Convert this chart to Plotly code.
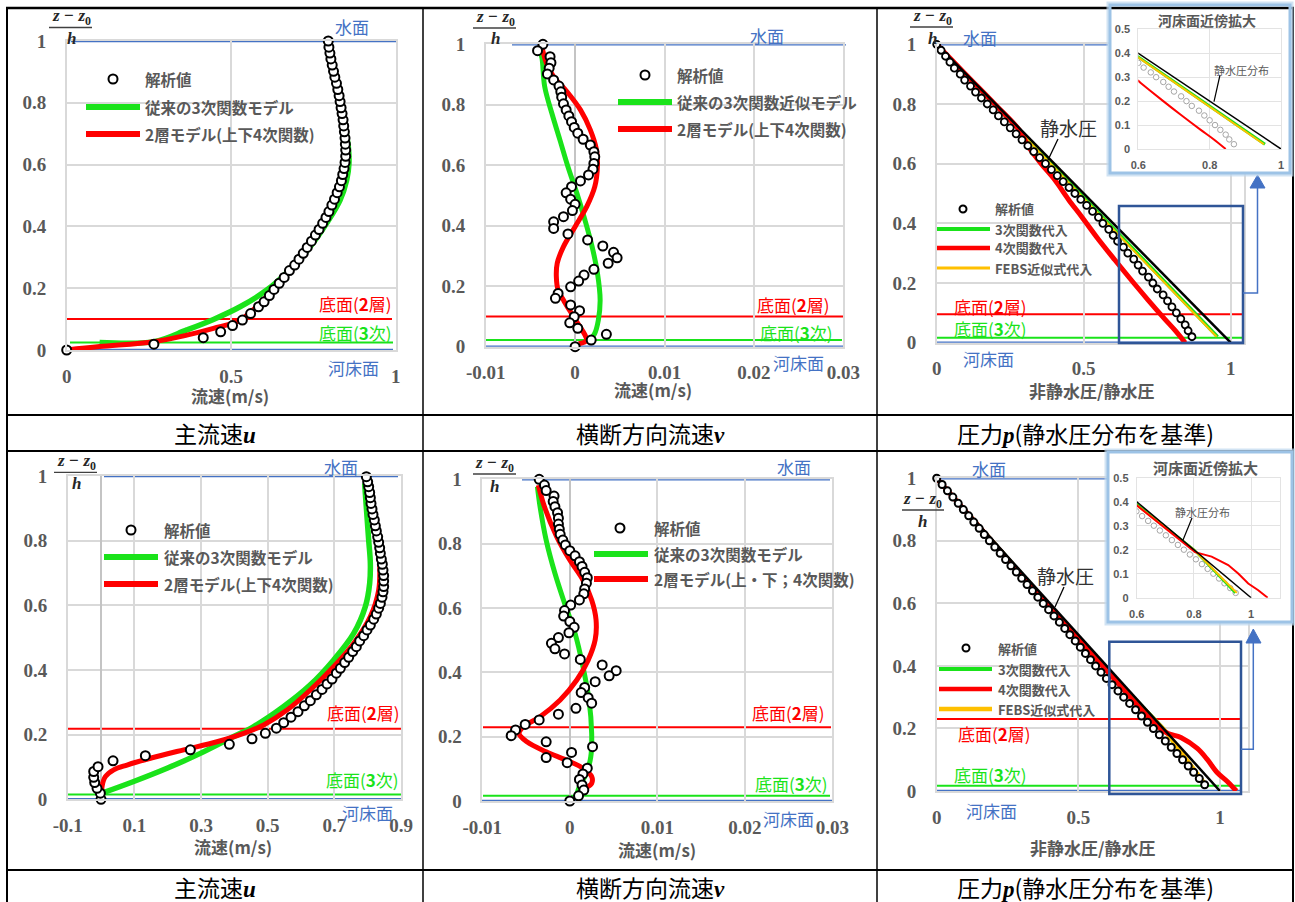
import plotly.graph_objects as go

W, H = 1295, 902
def fx(p): return p / W
def fy(p): return 1 - p / H

# ---------------- data ----------------
# Panel 1: main velocity u (case 1)
p1_ana_z = [0, 0.019, 0.04, 0.059, 0.079, 0.097, 0.118, 0.140, 0.156, 0.176, 0.196, 0.216, 0.235, 0.257, 0.275, 0.294, 0.313, 0.332, 0.352, 0.372,
            0.390, 0.410, 0.429, 0.448, 0.469, 0.488, 0.509, 0.528, 0.548, 0.568, 0.587, 0.607, 0.627, 0.647, 0.666, 0.686, 0.706, 0.725, 0.745, 0.765,
            0.784, 0.804, 0.823, 0.843, 0.863, 0.883, 0.902, 0.922, 0.942, 0.961, 0.980, 1.0]
p1_ana_u = [0, 0.265, 0.415, 0.468, 0.504, 0.534, 0.559, 0.583, 0.600, 0.616, 0.630, 0.646, 0.661, 0.677, 0.693, 0.706, 0.719, 0.731, 0.744, 0.756,
            0.767, 0.778, 0.788, 0.797, 0.806, 0.814, 0.822, 0.829, 0.835, 0.839, 0.843, 0.846, 0.848, 0.848, 0.847, 0.846, 0.844, 0.842, 0.840, 0.837,
            0.834, 0.831, 0.828, 0.824, 0.820, 0.815, 0.811, 0.807, 0.803, 0.800, 0.797, 0.795]
p1_cub_z = [0.024, 0.027, 0.065, 0.099, 0.140, 0.194, 0.261, 0.334, 0.410, 0.485, 0.550, 0.604, 0.658, 0.722, 0.809, 0.884, 0.949, 0.98]
p1_cub_u = [0.10, 0.265, 0.365, 0.446, 0.527, 0.608, 0.679, 0.740, 0.790, 0.831, 0.851, 0.858, 0.856, 0.846, 0.831, 0.815, 0.800, 0.792]
p1_two_z = [0, 0.011, 0.027, 0.048, 0.070, 0.097, 0.173, 0.248, 0.334, 0.420, 0.507, 0.582, 0.647, 0.722, 0.809, 0.884, 0.959, 0.98]
p1_two_u = [0, 0.10, 0.265, 0.365, 0.446, 0.527, 0.608, 0.669, 0.731, 0.782, 0.822, 0.843, 0.848, 0.843, 0.828, 0.813, 0.797, 0.795]

# Panel 2: transverse velocity v (case 1)
p2_ana_z = [1.0, 0.979, 0.959, 0.939, 0.921, 0.902, 0.882, 0.862, 0.843, 0.825, 0.803, 0.783, 0.763, 0.744, 0.725, 0.706, 0.686, 0.667, 0.645, 0.628,
            0.606, 0.587, 0.568, 0.548, 0.529, 0.509, 0.488, 0.471, 0.450, 0.430, 0.413, 0.391, 0.373, 0.353, 0.333, 0.312, 0.294, 0.276, 0.256, 0.237,
            0.217, 0.198, 0.176, 0.160, 0.138, 0.119, 0.099, 0.079, 0.061, 0.041, 0.022, 0.0]
p2_ana_v = [-0.0036, -0.0042, -0.0028, -0.0027, -0.0029, -0.0031, -0.0024, -0.0018, -0.0016, -0.0015, -0.0013, -0.0010, -0.0007, -0.0004, -0.0001,
            0.0003, 0.0009, 0.0017, 0.0021, 0.0022, 0.0021, 0.0020, 0.0015, 0.0006, -0.0004, -0.0010, -0.0005, 0.0, -0.0003, -0.0013,
            -0.0024, -0.0024, -0.0008, 0.0014, 0.0031, 0.0043, 0.0047, 0.0037, 0.0021, 0.0010, 0.0004, -0.0005, -0.0019, -0.0022, -0.0005,
            0.0005, -0.0001, -0.0006, 0.0003, 0.0035, 0.0018, 0.0]
p2_cub_z = [0.975, 0.954, 0.860, 0.772, 0.684, 0.595, 0.507, 0.419, 0.331, 0.243, 0.154, 0.088, 0.044, 0.022]
p2_cub_v = [-0.0039, -0.0037, -0.0034, -0.0026, -0.0017, -0.0008, 0.0002, 0.0011, 0.0019, 0.0025, 0.0028, 0.0026, 0.0022, 0.0017]
p2_two_z = [0.99, 0.937, 0.893, 0.843, 0.783, 0.717, 0.650, 0.595, 0.529, 0.463, 0.397, 0.331, 0.276, 0.232, 0.187, 0.149, 0.110, 0.072, 0.039, 0.02, 0.01]
p2_two_v = [-0.0037, -0.0032, -0.0024, -0.0009, 0.0006, 0.0017, 0.0024, 0.0025, 0.0022, 0.0013, 0.0, -0.0013, -0.0020, -0.0021, -0.0019,
            -0.0012, -0.0004, 0.0004, 0.0011, 0.0013, 0.0004]

# Panel 3: pressure ratio (case 1)
p3_ana_z = [1.00, 0.98, 0.96, 0.94, 0.92, 0.90, 0.88, 0.86, 0.84, 0.82, 0.80, 0.78, 0.76, 0.74, 0.72, 0.70, 0.68, 0.66, 0.64, 0.62,
            0.60, 0.58, 0.56, 0.54, 0.52, 0.50, 0.48, 0.46, 0.44, 0.42, 0.40, 0.38, 0.36, 0.34, 0.32, 0.30, 0.28, 0.26, 0.24, 0.22,
            0.20, 0.18, 0.16, 0.14, 0.12, 0.10, 0.08, 0.06, 0.04, 0.02]
p3_ana_p = [0.00, 0.015, 0.03, 0.045, 0.06, 0.08, 0.095, 0.115, 0.132, 0.152, 0.172, 0.192, 0.21, 0.23, 0.25, 0.27, 0.29, 0.31, 0.33, 0.35,
            0.37, 0.39, 0.41, 0.43, 0.45, 0.47, 0.49, 0.51, 0.53, 0.55, 0.565, 0.585, 0.60, 0.615, 0.635, 0.65, 0.67, 0.685, 0.70, 0.72,
            0.735, 0.75, 0.77, 0.785, 0.80, 0.815, 0.83, 0.845, 0.855, 0.868]
p3_cub_z = [1.0, 0.385, 0.02]
p3_cub_p = [0.0, 0.60, 0.955]
p3_febs_z = [1.0, 0.38, 0.02]
p3_febs_p = [0.0, 0.60, 0.952]
p3_quart_z = [1.0, 0.9, 0.8, 0.71, 0.657, 0.6, 0.545, 0.48, 0.422, 0.35, 0.277, 0.2, 0.143, 0.08, 0.042, 0.0]
p3_quart_p = [0.0, 0.098, 0.197, 0.283, 0.312, 0.355, 0.402, 0.448, 0.493, 0.547, 0.606, 0.67, 0.719, 0.775, 0.810, 0.845]

# hydrostatic distribution (panels 3 and 6)
hs_z = [1.0, 0.0]
hs_p = [0.0, 1.0]

# Panel 4: main velocity u (case 2)
p4_ana_z = [0, 0.019, 0.034, 0.052, 0.068, 0.086, 0.101, 0.119, 0.135, 0.153, 0.170, 0.187, 0.204, 0.220, 0.237, 0.254, 0.271, 0.289, 0.305, 0.323,
            0.340, 0.357, 0.372, 0.390, 0.405, 0.423, 0.439, 0.457, 0.472, 0.490, 0.506, 0.524, 0.539, 0.557, 0.573, 0.591, 0.606, 0.625, 0.642, 0.658,
            0.675, 0.692, 0.709, 0.727, 0.743, 0.761, 0.778, 0.795, 0.812, 0.830, 0.846, 0.864, 0.881, 0.898, 0.915, 0.933, 0.949, 0.967, 0.982, 0.998]
p4_ana_u = [0.0, -0.002, -0.012, -0.019, -0.022, -0.022, -0.009, 0.036, 0.133, 0.268, 0.385, 0.453, 0.493, 0.526, 0.548, 0.570, 0.591, 0.610, 0.628, 0.646,
            0.663, 0.678, 0.693, 0.706, 0.718, 0.731, 0.743, 0.755, 0.766, 0.776, 0.788, 0.798, 0.808, 0.818, 0.826, 0.833, 0.838, 0.843, 0.846, 0.848,
            0.848, 0.848, 0.846, 0.844, 0.841, 0.838, 0.836, 0.833, 0.830, 0.826, 0.823, 0.820, 0.816, 0.813, 0.810, 0.808, 0.806, 0.803, 0.800, 0.796]
p4_cub_z = [0.019, 0.055, 0.096, 0.142, 0.194, 0.225, 0.287, 0.354, 0.431, 0.513, 0.596, 0.668, 0.730, 0.802, 0.874, 0.946, 0.977]
p4_cub_u = [0.003, 0.098, 0.198, 0.298, 0.398, 0.458, 0.548, 0.628, 0.698, 0.758, 0.793, 0.806, 0.808, 0.803, 0.798, 0.793, 0.791]
p4_two_z = [0.019, 0.039, 0.070, 0.091, 0.106, 0.127, 0.153, 0.178, 0.204, 0.230, 0.276, 0.338, 0.410, 0.482, 0.565, 0.647, 0.720, 0.802, 0.885, 0.957, 0.982]
p4_two_u = [0.003, 0.003, 0.013, 0.038, 0.078, 0.148, 0.248, 0.348, 0.428, 0.488, 0.558, 0.628, 0.698, 0.758, 0.808, 0.833, 0.836, 0.828, 0.816, 0.803, 0.798]

# Panel 5: transverse velocity v (case 2)
p5_ana_z = [1.0, 0.982, 0.965, 0.948, 0.931, 0.915, 0.896, 0.879, 0.861, 0.845, 0.829, 0.811, 0.796, 0.778, 0.762, 0.744, 0.729, 0.711, 0.694, 0.677,
            0.659, 0.644, 0.625, 0.609, 0.592, 0.575, 0.558, 0.540, 0.523, 0.508, 0.490, 0.473, 0.457, 0.440, 0.423, 0.405, 0.389, 0.371, 0.353, 0.337,
            0.321, 0.304, 0.288, 0.270, 0.252, 0.238, 0.221, 0.203, 0.184, 0.169, 0.151, 0.135, 0.119, 0.102, 0.084, 0.067, 0.050, 0.034, 0.016, 0.0]
p5_ana_v = [-0.0035, -0.0029, -0.0027, -0.0018, -0.0019, -0.0017, -0.0014, -0.0013, -0.0013, -0.0012, -0.0011, -0.0008, -0.0005, 0.0, 0.0006,
            0.0011, 0.0014, 0.0017, 0.0020, 0.0019, 0.0017, 0.0016, 0.0011, 0.0001, -0.0006, -0.0007, 0.0, 0.0005, -0.0001, -0.0013,
            -0.0021, -0.0017, -0.0006, 0.0012, 0.0037, 0.0053, 0.0045, 0.0029, 0.0017, 0.0013, 0.0021, 0.0025, 0.0007, -0.0013, -0.0035,
            -0.0051, -0.0062, -0.0067, -0.0027, 0.0026, 0.0002, -0.0027, -0.0003, 0.0020, 0.0015, 0.0011, 0.0014, 0.0016, 0.0010, 0.0]
p5_cub_z = [0.977, 0.915, 0.811, 0.708, 0.615, 0.521, 0.418, 0.314, 0.210, 0.138, 0.086, 0.045, 0.021]
p5_cub_v = [-0.0037, -0.0034, -0.0027, -0.0017, -0.0006, 0.0006, 0.0015, 0.0022, 0.0025, 0.0024, 0.0019, 0.0011, 0.0008]
p5_two_z = [0.982, 0.915, 0.822, 0.749, 0.687, 0.625, 0.563, 0.501, 0.438, 0.376, 0.314, 0.262, 0.231, 0.210, 0.184, 0.153, 0.127, 0.102, 0.076, 0.055, 0.039]
p5_two_v = [-0.0036, -0.0029, -0.0015, 0.0, 0.0015, 0.0025, 0.0030, 0.0029, 0.0021, 0.0008, -0.0011, -0.0034, -0.0053, -0.0058, -0.0049,
            -0.0027, -0.0004, 0.0015, 0.0025, 0.0025, 0.0017]

# Panel 6: pressure ratio (case 2)
p6_ana_z = p3_ana_z
p6_ana_p = [0.000, 0.019, 0.038, 0.057, 0.076, 0.094, 0.113, 0.131, 0.150, 0.168, 0.186, 0.205, 0.224, 0.243, 0.262, 0.281, 0.300, 0.319, 0.338, 0.357,
            0.376, 0.395, 0.414, 0.433, 0.452, 0.470, 0.489, 0.507, 0.525, 0.543, 0.561, 0.580, 0.599, 0.619, 0.640, 0.660, 0.681, 0.702, 0.723, 0.744,
            0.765, 0.786, 0.807, 0.828, 0.848, 0.868, 0.888, 0.907, 0.927, 0.946]
p6_cub_z = [1.0, 0.39, 0.2, 0.02]
p6_cub_p = [0.0, 0.60, 0.80, 0.945]
p6_febs_z = [1.0, 0.385, 0.2, 0.02]
p6_febs_p = [0.0, 0.60, 0.80, 0.95]
p6_quart_z = [1.0, 0.385, 0.19, 0.171, 0.136, 0.101, 0.059, 0.031, 0.0]
p6_quart_p = [0.0, 0.60, 0.804, 0.862, 0.92, 0.955, 0.99, 1.025, 1.058]

# reference levels (per panel 1..6)
surface_z = [1, 1, 1, 1, 1, 1]
riverbed_z = [0, 0, 0, 0, 0, 0]
bed2_z = [0.10, 0.10, 0.095, 0.218, 0.229, 0.23]
bed3_z = [0.024, 0.022, 0.017, 0.015, 0.016, 0.017]

# tick labels
y_ticks = [0, 0.2, 0.4, 0.6, 0.8, 1]
y_ticktext = ['0', '0.2', '0.4', '0.6', '0.8', '1']
u1_ticks = [0, 0.5, 1]; u1_text = ['0', '0.5', '1']
v_ticks = [-0.01, 0, 0.01, 0.02, 0.03]; v_text = ['-0.01', '0', '0.01', '0.02', '0.03']
u2_ticks = [-0.1, 0.1, 0.3, 0.5, 0.7, 0.9]; u2_text = ['-0.1', '0.1', '0.3', '0.5', '0.7', '0.9']
p_ticks = [0, 0.5, 1]; p_text = ['0', '0.5', '1']
in_y_ticks = [0, 0.1, 0.2, 0.3, 0.4, 0.5]; in_y_text = ['0', '0.1', '0.2', '0.3', '0.4', '0.5']
in_x_ticks = [0.6, 0.8, 1.0]; in_x_text = ['0.6', '0.8', '1']

# ---------------- style ----------------
NUM = 'Liberation Serif, DejaVu Serif, serif'
JP = 'Noto Sans CJK JP'
GREY = '#595959'
BLUE = '#4472C4'
RED = '#FF0000'
GREEN = '#1AE31A'
ORANGE = '#FFC000'
GRID = '#D9D9D9'

fig = go.Figure()

panels = {
    1: (66.7, 395.7, 41, 350, [0, 1], [0, 1], u1_ticks, u1_text, False),
    2: (485.7, 843.3, 44.3, 346.7, [-0.01, 0.03], [0, 1], v_ticks, v_text, True),
    3: (936.7, 1244, 44.3, 342.7, [0, 1.045], [0, 1], p_ticks, p_text, False),
    4: (67.7, 401, 476, 799.3, [-0.1, 0.9], [0, 1], u2_ticks, u2_text, True),
    5: (482.3, 832.3, 479.3, 801, [-0.01, 0.03], [0, 1], v_ticks, v_text, True),
    6: (936.7, 1248.3, 478.3, 791, [0, 1.1], [0, 1], p_ticks, p_text, False),
}

def axkey(c, n):
    return c + 'axis' + ('' if n == 1 else str(n))

def ref(c, n):
    return c + ('' if n == 1 else str(n))

lay = {}
tickf = dict(family=NUM, size=19, color=GREY, weight='bold')
for n, (l, r, t, b, xr, yr, xt, xtt, zl) in panels.items():
    lay[axkey('x', n)] = dict(domain=[fx(l), fx(r)], range=xr, anchor=ref('y', n),
                              showgrid=True, gridcolor=GRID, gridwidth=1.5,
                              zeroline=zl, zerolinecolor='#C4C4C4', zerolinewidth=1.5,
                              showline=True, linecolor=GRID, linewidth=1.5, mirror=True,
                              ticks='outside', ticklen=8, tickcolor='rgba(0,0,0,0)',
                              tickvals=xt, ticktext=xtt, tickfont=tickf, fixedrange=True, automargin=False)
    lay[axkey('y', n)] = dict(domain=[fy(b), fy(t)], range=yr, anchor=ref('x', n),
                              showgrid=True, gridcolor=GRID, gridwidth=1.5, zeroline=False,
                              showline=True, linecolor=GRID, linewidth=1.5, mirror=True,
                              ticks='outside', ticklen=15, tickcolor='rgba(0,0,0,0)',
                              tickvals=y_ticks, ticktext=y_ticktext, tickfont=tickf, fixedrange=True, automargin=False)

inset_bg = {7: (1110, 1290, 5, 173), 9: (1108, 1292, 452, 622)}
for n, (l, r, t, b) in inset_bg.items():
    lay[axkey('x', n)] = dict(domain=[fx(l), fx(r)], range=[0, 1], anchor=ref('y', n), visible=False, fixedrange=True)
    lay[axkey('y', n)] = dict(domain=[fy(b), fy(t)], range=[0, 1], anchor=ref('x', n), visible=False, fixedrange=True)
    fig.add_trace(go.Scatter(x=[], y=[], xaxis=ref('x', n), yaxis=ref('y', n), showlegend=False))

insets = {8: (1138.3, 1281, 29.3, 149, [0.6, 1.0]), 10: (1136.7, 1279.7, 477.7, 597.7, [0.6, 1.1])}
in_tickf = dict(family='Liberation Sans', size=11, color=GREY, weight='bold')
for n, (l, r, t, b, xr) in insets.items():
    lay[axkey('x', n)] = dict(domain=[fx(l), fx(r)], range=xr, anchor=ref('y', n),
                              showgrid=True, gridcolor='#E3E3E3', gridwidth=1, zeroline=False,
                              showline=True, linecolor='#E3E3E3', mirror=True,
                              ticks='outside', ticklen=6, tickcolor='rgba(0,0,0,0)',
                              tickvals=in_x_ticks, ticktext=in_x_text, tickfont=in_tickf, fixedrange=True, automargin=False)
    lay[axkey('y', n)] = dict(domain=[fy(b), fy(t)], range=[0, 0.5], anchor=ref('x', n),
                              showgrid=True, gridcolor='#E3E3E3', gridwidth=1, zeroline=False,
                              showline=True, linecolor='#E3E3E3', mirror=True,
                              ticks='outside', ticklen=5, tickcolor='rgba(0,0,0,0)',
                              tickvals=in_y_ticks, ticktext=in_y_text, tickfont=in_tickf, fixedrange=True, automargin=False)


def line(n, x, y, color, width, shape='spline'):
    fig.add_trace(go.Scatter(x=x, y=y, mode='lines', xaxis=ref('x', n), yaxis=ref('y', n),
                             line=dict(color=color, width=width, shape=shape), showlegend=False,
                             hoverinfo='skip'))

def circles(n, x, y, size, lw, color='black', clip=False):
    fig.add_trace(go.Scatter(x=x, y=y, mode='markers', xaxis=ref('x', n), yaxis=ref('y', n),
                             marker=dict(symbol='circle', size=size, color='white',
                                         line=dict(color=color, width=lw)),
                             cliponaxis=clip, showlegend=False, hoverinfo='skip'))

line(1, p1_cub_u, p1_cub_z, GREEN, 5.5)
line(1, p1_two_u, p1_two_z, RED, 5)
circles(1, p1_ana_u, p1_ana_z, 9, 2)
line(2, p2_cub_v, p2_cub_z, GREEN, 5)
line(2, p2_two_v, p2_two_z, RED, 5)
circles(2, p2_ana_v, p2_ana_z, 9, 2)
line(3, p3_cub_p, p3_cub_z, GREEN, 3.5, 'linear')
line(3, p3_febs_p, p3_febs_z, ORANGE, 2, 'linear')
line(3, p3_quart_p, p3_quart_z, RED, 5)
line(3, hs_p, hs_z, 'black', 2.5, 'linear')
circles(3, p3_ana_p, p3_ana_z, 7, 1.8)
line(4, p4_cub_u, p4_cub_z, GREEN, 5.5)
line(4, p4_two_u, p4_two_z, RED, 5)
circles(4, p4_ana_u, p4_ana_z, 9, 2)
line(5, p5_cub_v, p5_cub_z, GREEN, 5)
line(5, p5_two_v, p5_two_z, RED, 5)
circles(5, p5_ana_v, p5_ana_z, 9, 2)
line(6, p6_cub_p, p6_cub_z, GREEN, 3.5, 'linear')
line(6, p6_febs_p, p6_febs_z, ORANGE, 4, 'linear')
line(6, p6_quart_p, p6_quart_z, RED, 5)
line(6, hs_p, hs_z, 'black', 2.5, 'linear')
circles(6, p6_ana_p, p6_ana_z, 7, 2)
circles(8, p3_ana_p, p3_ana_z, 5.5, 1, '#A6A6A6', True)
line(8, p3_quart_p, p3_quart_z, RED, 2)
line(8, p3_cub_p, p3_cub_z, GREEN, 3, 'linear')
line(8, p3_febs_p, p3_febs_z, ORANGE, 2, 'linear')
line(8, hs_p, hs_z, 'black', 1.5, 'linear')
circles(10, p6_ana_p, p6_ana_z, 5.5, 1, '#A6A6A6', True)
line(10, p6_cub_p, p6_cub_z, GREEN, 2.5, 'linear')
line(10, p6_febs_p, p6_febs_z, ORANGE, 2, 'linear')
line(10, p6_quart_p, p6_quart_z, RED, 2, 'linear')
line(10, hs_p, hs_z, 'black', 1.5, 'linear')

shapes = []
ann = []

def hl(n, z, x0, x1, color, width, layer='below'):
    shapes.append(dict(type='line', xref='paper', yref=ref('y', n), x0=fx(x0), x1=fx(x1), y0=z, y1=z,
                       line=dict(color=color, width=width), layer=layer))

def pline(x0, y0, x1, y1, color, width, layer='above'):
    shapes.append(dict(type='line', xref='paper', yref='paper', x0=fx(x0), y0=fy(y0), x1=fx(x1), y1=fy(y1),
                       line=dict(color=color, width=width), layer=layer))

def text(x, y, s, size, color, family=JP, weight='normal', xanchor='center'):
    ann.append(dict(x=fx(x), y=fy(y), xref='paper', yref='paper', text=s, showarrow=False,
                    xanchor=xanchor, yanchor='middle',
                    font=dict(family=family, size=size, color=color, weight=weight)))

extents = {
    1: ((71, 398), (67, 393), (67, 392), (70, 393)),
    2: ((512, 846), (486, 843), (486, 844), (486, 842)),
    3: ((937, 1108), (937, 1243), (937, 1242), (937, 1243)),
    4: ((104, 398), (68, 403), (66, 401), (66, 401)),
    5: ((522, 830), (482, 832), (483, 831), (483, 830)),
    6: ((937, 1108), (937, 1242), (937, 1242), (937, 1242)),
}
for n, (es, eb, e2, e3) in extents.items():
    hl(n, surface_z[n - 1], es[0], es[1], BLUE, 2.5)
    hl(n, riverbed_z[n - 1], eb[0], eb[1], BLUE, 2.5)
    hl(n, bed2_z[n - 1], e2[0], e2[1], RED, 2)
    hl(n, bed3_z[n - 1], e3[0], e3[1], GREEN, 2)

labels = {
    1: ((352, 27), (353, 367), (355, 303), (355, 332)),
    2: ((767, 35), (798, 362), (793, 304), (796, 332)),
    3: ((980, 37), (988, 358), (990, 306), (990, 328)),
    4: ((341, 467), (367, 812), (363, 712), (362, 779)),
    5: ((794, 467), (788, 818), (788, 712), (791, 783)),
    6: ((989, 469), (991, 810), (994, 733), (990, 774)),
}
for n, (ps, pb, p2, p3) in labels.items():
    text(ps[0], ps[1], '水面', 17, BLUE)
    text(pb[0], pb[1], '河床面', 17, BLUE)
    text(p2[0], p2[1], '底面(<b>2</b>層)', 17, RED)
    text(p3[0], p3[1], '底面(<b>3</b>次)', 17, GREEN)

fracs = {1: (71, 17, 49, 92, 27.5, 39), 2: (495, 18, 473, 516, 28, 39), 3: (932, 17, 910, 953, 27, 39),
         4: (76, 462.5, 54, 97, 472.3, 483), 5: (494, 464, 473, 516, 474, 486.7), 6: (922, 500, 902, 944, 510, 521)}
for n, (cx, ty, l0, l1, ly, hy) in fracs.items():
    text(cx, ty, '<b><i>z − z</i><sub>0</sub></b>', 17, '#262626', NUM)
    pline(l0, ly, l1, ly, '#404040', 1.3)
    text(cx, hy, '<b><i>h</i></b>', 17, '#262626', NUM)

for (x, y, s) in [(230, 395, '流速(m/s)'), (653, 389, '流速(m/s)'), (1092, 390, '非静水圧/静水圧'),
                  (233, 846, '流速(m/s)'), (657, 849, '流速(m/s)'), (1093, 847, '非静水圧/静水圧')]:
    text(x, y, s, 17, GREY, weight='bold')

def legend(mx, my, tx, lx0, lx1, rows, mr, lw, size):
    shapes.append(dict(type='circle', xref='paper', yref='paper', x0=fx(mx - mr), x1=fx(mx + mr),
                       y0=fy(my + mr), y1=fy(my - mr), line=dict(color='black', width=2), fillcolor='white', layer='above'))
    text(tx, my, '解析値', size, GREY, weight='bold', xanchor='left')
    for (y, color, w, s) in rows:
        pline(lx0, y, lx1, y, color, w)
        text(tx, y, s, size, GREY, weight='bold', xanchor='left')

legend(113, 79, 143, 86, 140, [(107, GREEN, 6, '従来の3次関数モデル'), (134, RED, 6, '2層モデル(上下4次関数)')], 4.5, 6, 15.5)
legend(645, 75, 675, 618, 672, [(102, GREEN, 6, '従来の3次関数近似モデル'), (129, RED, 6, '2層モデル(上下4次関数)')], 4.5, 6, 15.5)
legend(963, 209, 993, 937, 990, [(229, GREEN, 4, '3次関数代入'), (248, RED, 4.5, '4次関数代入'), (268, ORANGE, 3, 'FEBS近似式代入')], 3.5, 4, 13)
legend(131, 530, 162, 104, 158, [(557, GREEN, 6, '従来の3次関数モデル'), (584, RED, 6, '2層モデル(上下4次関数)')], 4.5, 6, 15.5)
legend(620, 528, 652, 594, 648, [(554, GREEN, 6, '従来の3次関数モデル'), (579, RED, 6, '2層モデル(上・下；4次関数)')], 4.5, 6, 15.5)
legend(966, 648, 996, 939, 992, [(669, GREEN, 4, '3次関数代入'), (689, RED, 4.5, '4次関数代入'), (709, ORANGE, 4.5, 'FEBS近似式代入')], 3.5, 4, 13)

text(1068, 128, '静水圧', 19, '#333333')
pline(1058, 139, 1048, 160, 'black', 1.3)
text(1065, 575, '静水圧', 19, '#333333')
pline(1064, 587, 1055, 607, 'black', 1.3)

NAVY = '#2F5597'
shapes.append(dict(type='rect', xref='paper', yref='paper', x0=fx(1119), x1=fx(1243), y0=fy(343), y1=fy(206),
                   line=dict(color=NAVY, width=2.5), layer='above'))
shapes.append(dict(type='path', xref='paper', yref='paper',
                   path=f'M {fx(1243)} {fy(293)} L {fx(1257.5)} {fy(293)} L {fx(1257.5)} {fy(186)}',
                   line=dict(color=BLUE, width=1.5), layer='above'))
shapes.append(dict(type='path', xref='paper', yref='paper',
                   path=f'M {fx(1250)} {fy(188)} L {fx(1265)} {fy(188)} L {fx(1257.5)} {fy(175)} Z',
                   fillcolor=BLUE, line=dict(color=BLUE, width=1), layer='above'))
shapes.append(dict(type='rect', xref='paper', yref='paper', x0=fx(1109.3), x1=fx(1241), y0=fy(794), y1=fy(641.7),
                   line=dict(color=NAVY, width=2.5), layer='above'))
shapes.append(dict(type='path', xref='paper', yref='paper',
                   path=f'M {fx(1241)} {fy(749.3)} L {fx(1253.3)} {fy(749.3)} L {fx(1253.3)} {fy(642)}',
                   line=dict(color=BLUE, width=1.5), layer='above'))
shapes.append(dict(type='path', xref='paper', yref='paper',
                   path=f'M {fx(1246)} {fy(643)} L {fx(1261)} {fy(643)} L {fx(1253.3)} {fy(629)} Z',
                   fillcolor=BLUE, line=dict(color=BLUE, width=1), layer='above'))

TB = 'black'
pline(6, 8, 1294, 8, TB, 2.5)
pline(7, 8, 7, 902, TB, 2)
pline(1293, 8, 1293, 902, TB, 2)
pline(423, 8, 423, 902, TB, 1.5)
pline(877, 8, 877, 902, TB, 1.5)
pline(6, 415, 1294, 415, TB, 2)
pline(6, 451, 1294, 451, TB, 2)
pline(6, 870, 1294, 870, TB, 2)

for (l, r, t, b) in [(1110, 1290, 5, 173), (1108, 1292, 452, 622)]:
    shapes.append(dict(type='rect', xref='paper', yref='paper', x0=fx(l - 2), x1=fx(r + 2), y0=fy(b + 2), y1=fy(t - 2),
                       line=dict(color='rgba(189,215,238,0.7)', width=3), layer='above'))
    shapes.append(dict(type='rect', xref='paper', yref='paper', x0=fx(l), x1=fx(r), y0=fy(b), y1=fy(t),
                       line=dict(color='#9DC3E6', width=3), layer='above'))

text(1207, 20, '河床面近傍拡大', 14, GREY, weight='bold')
text(1205, 468, '河床面近傍拡大', 15, GREY, weight='bold')
text(1241, 70, '静水圧分布', 11, GREY)
pline(1220, 75, 1214, 101.7, 'black', 1.2)
text(1202, 512, '静水圧分布', 11, GREY)
pline(1192, 518, 1183, 540, 'black', 1.2)

for y in (433, 887):
    text(215, y, "主流速<span style='font-family:Liberation Serif'><b><i>u</i></b></span>", 23, 'black')
    text(650, y, "横断方向流速<span style='font-family:Liberation Serif'><b><i>v</i></b></span>", 23, 'black')
    text(1085, y, "圧力<span style='font-family:Liberation Serif'><b><i>p</i></b></span>(静水圧分布を基準)", 23, 'black')

fig.update_layout(width=W, height=H, autosize=False,
                  margin=dict(l=0, r=0, t=0, b=0, pad=0, autoexpand=False),
                  paper_bgcolor='white', plot_bgcolor='white', showlegend=False,
                  shapes=shapes, annotations=ann, **lay)

fig.write_html("out.html", config={'displayModeBar': False},
               post_script="document.body.style.margin='0';document.body.style.overflow='hidden';")
